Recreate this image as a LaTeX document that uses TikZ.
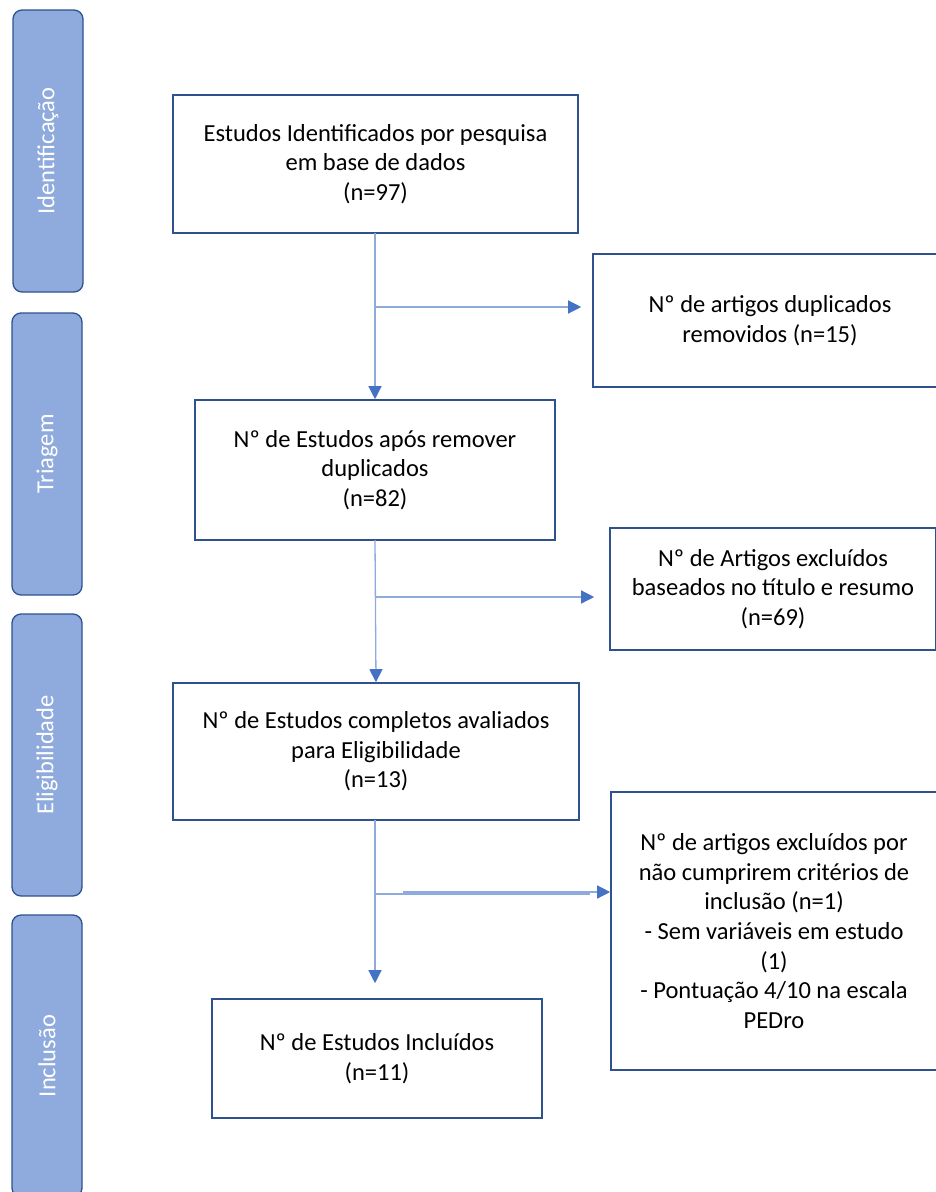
\documentclass[tikz,border=0pt]{standalone}
\usepackage{fontspec}
\setmainfont{Carlito}
\usetikzlibrary{shapes,arrows.meta,positioning}

\definecolor{bordblue}{HTML}{2F528F}
\definecolor{stageblue}{HTML}{8FAADC}
\definecolor{lineblue}{HTML}{8FAADC}
\definecolor{arrblue}{HTML}{4472C4}

\begin{document}
\begin{tikzpicture}[x=1pt, y=-1pt,
    stage/.style={rectangle, draw=bordblue, line width=1.3pt, rounded corners=9pt, fill=stageblue, rotate=90, minimum width=282, minimum height=70, text=white, font=\fontsize{24.5}{28}\selectfont},
    p/.style={rectangle, draw=bordblue, line width=1.6pt, fill=white, align=center, inner sep=0pt, font=\fontsize{24.5}{29.6}\selectfont},
    ar/.style={draw=lineblue, line width=1.3pt, -{Triangle[length=13pt, width=13pt, color=arrblue]}}]
    \useasboundingbox (0,0) rectangle (936,1192);
    % fases
    \node [stage] (s1) at (48,151) {Identificação};
    \node [stage] (s2) at (47,454) {Triagem};
    \node [stage] (s3) at (47,755) {Eligibilidade};
    \node [stage] (s4) at (47,1056) {Inclusão};
    % caixas principais
    \node [p, minimum width=405, minimum height=138] (a) at (375.5,164) {Estudos Identificados por pesquisa\\em base de dados\\(n=97)};
    \node [p, minimum width=360, minimum height=140] (c) at (375,470) {Nº de Estudos após remover\\duplicados\\(n=82)};
    \node [p, minimum width=406, minimum height=137] (e) at (376,751.5) {Nº de Estudos completos avaliados\\para Eligibilidade\\(n=13)};
    \node [p, minimum width=330, minimum height=119] (g) at (377,1058.5) {Nº de Estudos Incluídos\\(n=11)};
    % exclusões
    \node [p, minimum width=354, minimum height=133] (b) at (770,320.5) {Nº de artigos duplicados\\removidos (n=15)};
    \node [p, minimum width=326, minimum height=122] (d) at (773,589) {Nº de Artigos excluídos\\baseados no título e resumo\\(n=69)};
    \node [p, minimum width=326, minimum height=278] (f) at (774,931) {Nº de artigos excluídos por\\não cumprirem critérios de\\inclusão (n=1)\\- Sem variáveis em estudo\\(1)\\- Pontuação 4/10 na escala\\PEDro};
    % ligações
    \coordinate (j1) at (375,307);
    \coordinate (j2) at (375,597);
    \coordinate (j3) at (375,894);
    \coordinate (j3b) at (403,892);
    \coordinate (ca) at (375,233);
    \coordinate (cc) at (375,540);
    \coordinate (ce) at (375,820);
    \draw [ar] (ca) -- (c.north);
    \draw [ar] (cc) -- (e.north);
    \draw [ar] (ce) -- ([yshift=15pt]ca |- g.north);
    \draw [ar] (j1) -- ([xshift=-11pt]j1 -| b.west);
    \draw [ar] (j2) -- ([xshift=-15pt]j2 -| d.west);
    \draw [draw=lineblue, line width=1.3pt] (j3) -- ([xshift=-20pt]j3 -| f.west);
    \draw [ar] (j3b) -- (j3b -| f.west);
\end{tikzpicture}
\end{document}
